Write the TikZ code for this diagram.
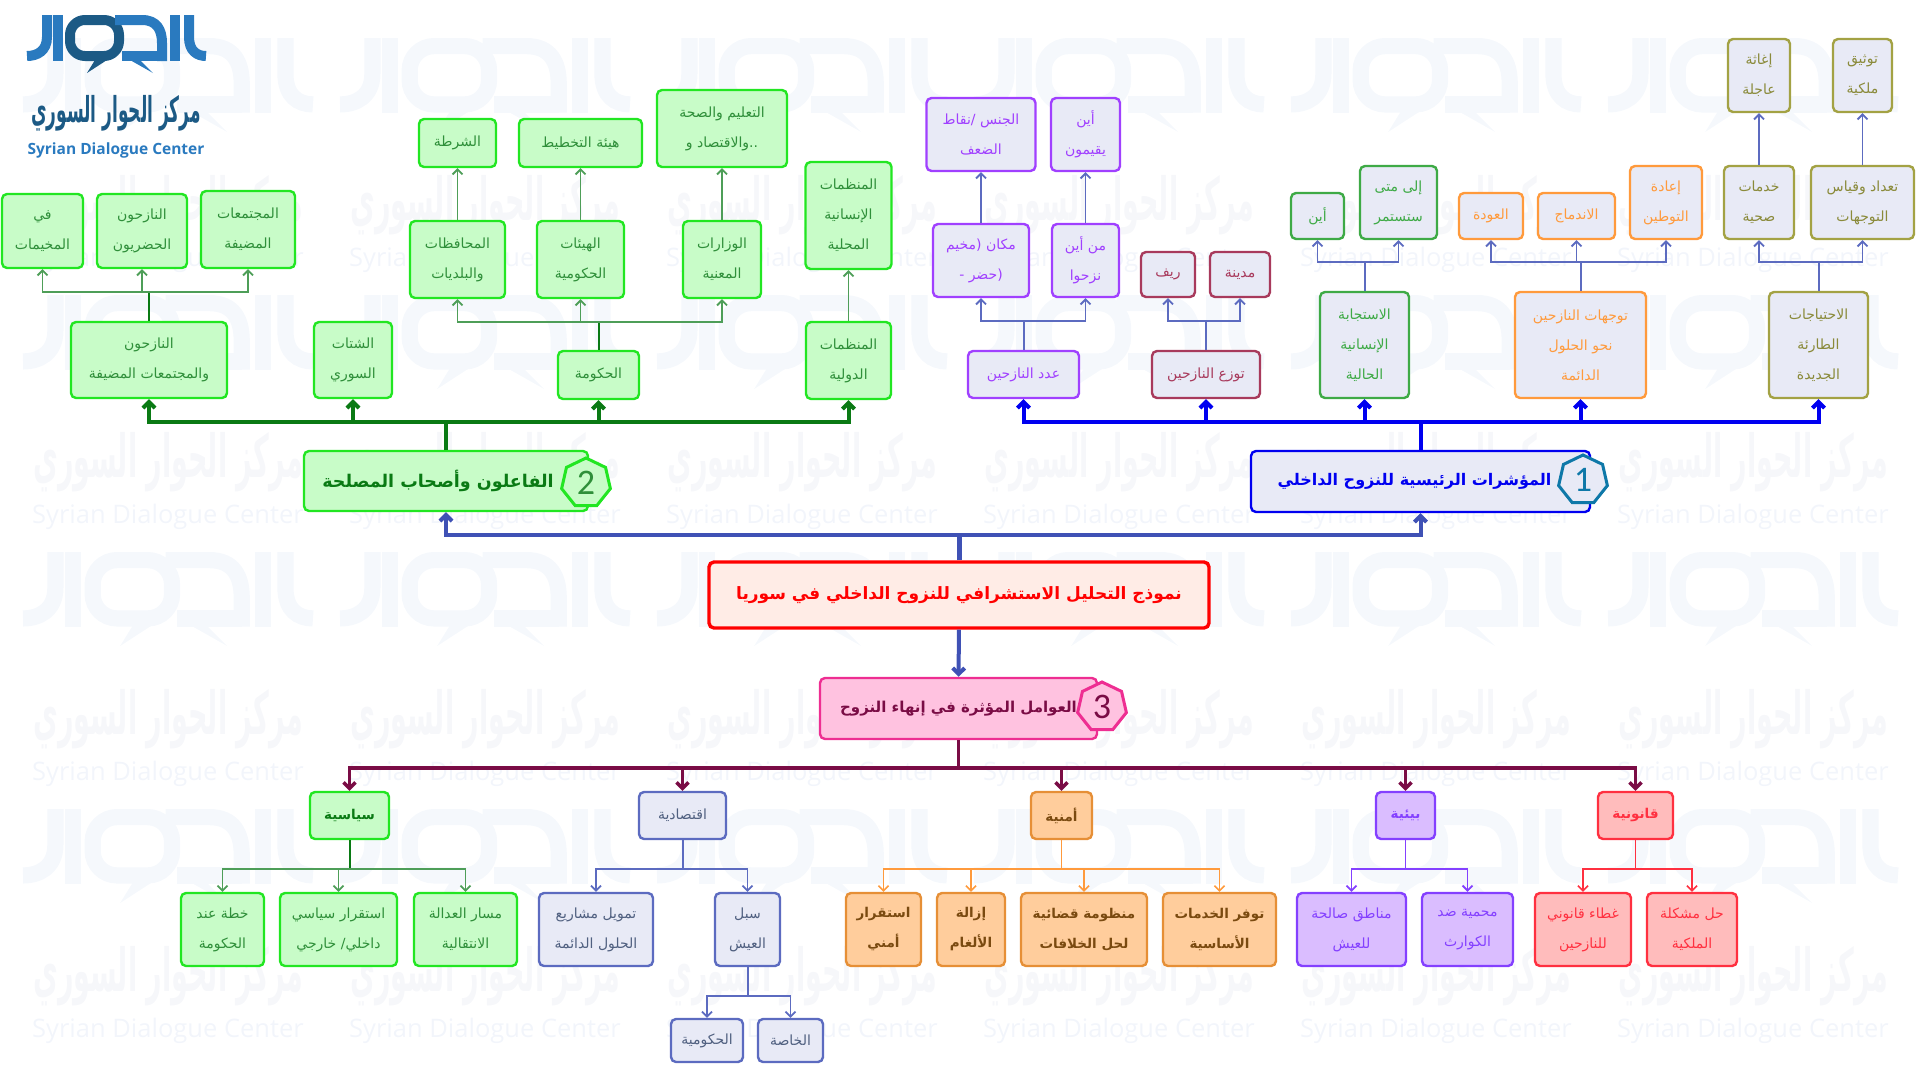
\documentclass[tikz,border=0pt]{standalone}
\usepackage{fontspec}
\usepackage{graphicx}
\usetikzlibrary{arrows.meta,shapes.geometric}
\TeXXeTstate=1
\newfontfamily\arabicfont[Script=Arabic]{DejaVu Sans}
\newfontfamily\latinfont{Open Sans}
\newfontfamily\digitfont{Carlito}
\newcommand{\ar}[1]{\beginR #1\endR}
\definecolor{gfill}{HTML}{C8FCC8}
\definecolor{gline}{HTML}{22E622}
\definecolor{gtext}{HTML}{2F8F3A}
\definecolor{gdark}{HTML}{0A7A14}
\definecolor{gstemc}{HTML}{4E9E58}
\definecolor{sfill}{HTML}{E8EAF6}
\definecolor{pline}{HTML}{A040FF}
\definecolor{mline}{HTML}{A83A5C}
\definecolor{fline}{HTML}{3EAA46}
\definecolor{oline}{HTML}{FF9A3C}
\definecolor{kline}{HTML}{A3A244}
\definecolor{bstem}{HTML}{5C6BC0}
\definecolor{mainblue}{HTML}{0000F0}
\definecolor{linkblue}{HTML}{3F51B5}
\definecolor{rootfill}{HTML}{FFECE6}
\definecolor{pinkfill}{HTML}{FFC2E0}
\definecolor{pinkline}{HTML}{EE2E92}
\definecolor{maroon}{HTML}{7A0C45}
\definecolor{teal}{HTML}{0E78A8}
\definecolor{ofill}{HTML}{FFCD9C}
\definecolor{odraw}{HTML}{E68F36}
\definecolor{otext}{HTML}{7A4A10}
\definecolor{vfill}{HTML}{DABDFF}
\definecolor{vline}{HTML}{8440FF}
\definecolor{rfill}{HTML}{FFBCBC}
\definecolor{rline}{HTML}{FF3040}
\definecolor{etext}{HTML}{506080}
\definecolor{wmark}{HTML}{F5F8FC}
\definecolor{wtext}{HTML}{F2F5FB}
\definecolor{wcall}{HTML}{F6F7FA}
\definecolor{logoblue}{HTML}{2A7ABF}
\definecolor{logodark}{HTML}{1C5A85}
\newcommand{\logomark}[5]{%
  \begin{scope}[shift={(#1,#2)},scale=#3,line width=#3*10pt]
    \draw[#4] (20,0) -- (20,22) .. controls (20,36) and (10,41) .. (0,41);
    \draw[#4] (31,0) -- (31,46);
    \draw[#5,rounded corners=#3*15pt] (92,5) -- (43,5) -- (43,41) -- (92,41) -- cycle;
    \fill[#5] (60,58) -- (68,45) -- (80,45) -- cycle;
    \draw[#4] (88,5) -- (115,5) .. controls (130,5) and (135,15) .. (135,28) -- (135,46);
    \draw[#4] (95,41) -- (135,41);
    \fill[#4] (126,58) -- (103,45) -- (113,45) -- cycle;
    \draw[#4] (148,0) -- (148,46);
    \draw[#4] (162,0) -- (162,22) .. controls (162,36) and (170,41) .. (179,41);
  \end{scope}}
\begin{document}
\begin{tikzpicture}[x=1pt,y=-1pt,
    tile/.style={draw, rounded corners=5pt, line width=2.4pt, inner sep=0pt, align=center, font=\arabicfont\fontsize{14}{30}\selectfont},
    sz/.style 2 args={minimum width=#1, minimum height=#2},
    greenbox/.style={tile, fill=gfill, draw=gline, text=gtext},
    purplebox/.style={tile, fill=sfill, draw=pline, text=pline},
    maroonbox/.style={tile, fill=sfill, draw=mline, text=mline},
    forestbox/.style={tile, fill=sfill, draw=fline, text=fline},
    orangebox/.style={tile, fill=sfill, draw=oline, text=oline},
    olivebox/.style={tile, fill=sfill, draw=kline, text=kline!85!black},
    slatebox/.style={tile, fill=sfill, draw=bstem, text=etext},
    amberbox/.style={tile, fill=ofill, draw=odraw, text=otext, boldtext},
    violetbox/.style={tile, fill=vfill, draw=vline, text=vline},
    redbox/.style={tile, fill=rfill, draw=rline, text=rline},
    boldtext/.style={font=\arabicfont\bfseries\fontsize{13.5}{30}\selectfont},
    badge/.style={draw, regular polygon, regular polygon sides=7, minimum size=50pt, inner sep=0pt, line width=3pt, font=\digitfont\fontsize{36}{36}\selectfont},
    headfont/.style={font=\arabicfont\bfseries\fontsize{#1}{20}\selectfont},
    gstem/.style={draw=gstemc, line width=1.8pt, -{Straight Barb[length=5pt,width=10pt]}},
    gtrunk/.style={draw=gdark, line width=2pt},
    bluestem/.style={draw=bstem, line width=1.8pt, -{Straight Barb[length=5pt,width=10pt]}},
    bluetrunk/.style={draw=bstem, line width=2pt},
    orangestem/.style={draw=oline, line width=1.6pt, -{Straight Barb[length=5pt,width=10pt]}},
    violetstem/.style={draw=vline, line width=1.8pt, -{Straight Barb[length=5pt,width=10pt]}},
    redstem/.style={draw=rline, line width=1.6pt, -{Straight Barb[length=5pt,width=10pt]}},
    bigstem/.style={line width=4pt, -{Straight Barb[length=6pt,width=12pt]}}]
  \useasboundingbox (0,0) rectangle (1920,1079);
  % watermark
  \begin{scope}
    \clip (0,0) rectangle (1920,1079);
    \foreach \col in {0,...,5} {
      \foreach \row in {0,...,3} {
        \logomark{23+317*\col}{38+257*\row}{1.62}{wmark}{wmark}
        \node[text=wcall, font=\arabicfont\bfseries\fontsize{27}{27}\selectfont] (call\col\row) at (168+317*\col,205+257*\row) {\scalebox{1}[2.2]{\ar{مركز الحوار السوري}}};
        \node[text=wtext, font=\latinfont\fontsize{25.5}{26}\selectfont] (wm\col\row) at (168+317*\col,260+257*\row) {Syrian Dialogue Center};
      }
    }
  \end{scope}
  % logo
  \logomark{27}{15}{1}{logoblue}{logodark}
  \node[text=logodark, font=\arabicfont\bfseries\fontsize{17}{17}\selectfont] (logoname) at (116,113) {\scalebox{1}[2.1]{\ar{مركز الحوار السوري}}};
  \node[text=logoblue, font=\latinfont\bfseries\fontsize{15.5}{16}\selectfont] (logotext) at (116,150) {Syrian Dialogue Center};

  % stakeholders
  \node[greenbox, sz={81}{74}] (camps) at (42.5,231) {\ar{في}\\\ar{المخيمات}};
  \node[greenbox, sz={90}{74}] (urban) at (142,231) {\ar{النازحون}\\\ar{الحضريون}};
  \node[greenbox, sz={94}{77}] (hostcom) at (248,229.5) {\ar{المجتمعات}\\\ar{المضيفة}};
  \node[greenbox, sz={156}{76}] (hosted) at (149,360) {\ar{النازحون}\\\ar{والمجتمعات المضيفة}};
  \node[greenbox, sz={78}{76}] (diaspora) at (353,360) {\ar{الشتات}\\\ar{السوري}};
  \node[greenbox, sz={77}{48}] (police) at (457.5,143) {\ar{الشرطة}};
  \node[greenbox, sz={123}{48}] (planning) at (580.5,143) {\ar{هيئة التخطيط}};
  \node[greenbox, sz={130}{77}] (education) at (722,128.5) {\ar{التعليم والصحة}\\\ar{..والاقتصاد و}};
  \node[greenbox, sz={95}{77}] (munic) at (457.5,259.5) {\ar{المحافظات}\\\ar{والبلديات}};
  \node[greenbox, sz={87}{77}] (bodies) at (580.5,259.5) {\ar{الهيئات}\\\ar{الحكومية}};
  \node[greenbox, sz={78}{77}] (ministries) at (722,259.5) {\ar{الوزارات}\\\ar{المعنية}};
  \node[greenbox, sz={81}{48}] (government) at (598.5,375) {\ar{الحكومة}};
  \node[greenbox, sz={85}{77}] (intl) at (848.5,360.5) {\ar{المنظمات}\\\ar{الدولية}};
  \node[greenbox, sz={86}{107}] (local) at (848.5,215.5) {\ar{المنظمات}\\\ar{الإنسانية}\\\ar{المحلية}};

  % indicators
  \node[purplebox, sz={109}{73}] (gender) at (981,134.5) {\ar{الجنس /نقاط}\\\ar{الضعف}};
  \node[purplebox, sz={69}{73}] (residence) at (1085.5,134.5) {\ar{أين}\\\ar{يقيمون}};
  \node[purplebox, sz={96}{73}] (place) at (981,260.5) {\ar{مكان (مخيم}\\\ar{(حضر -}};
  \node[purplebox, sz={67}{73}] (origin) at (1085.5,260.5) {\ar{من أين}\\\ar{نزحوا}};
  \node[purplebox, sz={111}{47}] (count) at (1023.5,374.5) {\ar{عدد النازحين}};
  \node[maroonbox, sz={54}{45}] (rural) at (1168,274.5) {\ar{ريف}};
  \node[maroonbox, sz={60}{45}] (city) at (1240,274.5) {\ar{مدينة}};
  \node[maroonbox, sz={108}{47}] (spread) at (1206,374.5) {\ar{توزع النازحين}};
  \node[forestbox, sz={53}{46}] (whereto) at (1317.5,216) {\ar{أين}};
  \node[forestbox, sz={77}{73}] (duration) at (1398.5,202.5) {\ar{إلى متى}\\\ar{ستستمر}};
  \node[forestbox, sz={89}{106}] (response) at (1364.5,345) {\ar{الاستجابة}\\\ar{الإنسانية}\\\ar{الحالية}};
  \node[orangebox, sz={64}{46}] (returning) at (1491,216) {\ar{العودة}};
  \node[orangebox, sz={77}{46}] (integration) at (1576.5,216) {\ar{الاندماج}};
  \node[orangebox, sz={72}{73}] (resettle) at (1666,202.5) {\ar{إعادة}\\\ar{التوطين}};
  \node[orangebox, sz={131}{106}] (paths) at (1580.5,345) {\ar{توجهات النازحين}\\\ar{نحو الحلول}\\\ar{الدائمة}};
  \node[olivebox, sz={70}{73}] (health) at (1759,202.5) {\ar{خدمات}\\\ar{صحية}};
  \node[olivebox, sz={103}{73}] (census) at (1862.5,202.5) {\ar{تعداد وقياس}\\\ar{التوجهات}};
  \node[olivebox, sz={62}{73}] (relief) at (1759,75.5) {\ar{إغاثة}\\\ar{عاجلة}};
  \node[olivebox, sz={59}{73}] (deeds) at (1862.5,75.5) {\ar{توثيق}\\\ar{ملكية}};
  \node[olivebox, sz={99}{106}] (needs) at (1818.5,345) {\ar{الاحتياجات}\\\ar{الطارئة}\\\ar{الجديدة}};

  % main boxes
  \node[tile, sz={339}{61}, fill=sfill, draw=mainblue, text=mainblue, headfont=16] (indicators) at (1420.5,481.5) {\hspace*{-6pt}\ar{المؤشرات الرئيسية للنزوح الداخلي}\hspace*{6pt}};
  \node[tile, sz={284}{60}, fill=gfill, draw=gline, text=gdark, headfont=17.5] (stake) at (446,481) {\hspace*{-8pt}\ar{الفاعلون وأصحاب المصلحة}\hspace*{8pt}};
  \node[tile, sz={500}{66}, fill=rootfill, draw=red, text=red, line width=3.4pt, headfont=17] (root) at (959,595) {\ar{نموذج التحليل الاستشرافي للنزوح الداخلي في سوريا}};
  \node[tile, sz={277}{61}, fill=pinkfill, draw=pinkline, text=maroon, headfont=15] (factors) at (958.5,708.5) {\ar{العوامل المؤثرة في إنهاء النزوح}};
  \node[badge, draw=teal, fill=sfill, text=teal] (one) at (1583,480) {1};
  \node[badge, draw=gline, fill=gfill, text=gtext] (two) at (586,483) {2};
  \node[badge, draw=pinkline, fill=pinkfill, text=maroon] (three) at (1102,707) {3};

  % factors
  \node[greenbox, sz={79}{47}, text=gdark, boldtext] (political) at (349.5,815.5) {\ar{سياسية}};
  \node[slatebox, sz={87}{47}] (economic) at (682.5,815.5) {\ar{اقتصادية}};
  \node[amberbox, sz={61}{47}] (security) at (1061.5,815.5) {\ar{أمنية}};
  \node[violetbox, sz={59}{47}, boldtext] (environ) at (1405.5,815.5) {\ar{بيئية}};
  \node[redbox, sz={75}{47}, boldtext] (legal) at (1635.5,815.5) {\ar{قانونية}};
  \node[greenbox, sz={83}{73}] (plan) at (222.5,929.5) {\ar{خطة عند}\\\ar{الحكومة}};
  \node[greenbox, sz={117}{73}] (stable) at (338.5,929.5) {\ar{استقرار سياسي}\\\ar{داخلي/ خارجي}};
  \node[greenbox, sz={103}{73}] (justice) at (465.5,929.5) {\ar{مسار العدالة}\\\ar{الانتقالية}};
  \node[slatebox, sz={114}{73}] (funding) at (596,929.5) {\ar{تمويل مشاريع}\\\ar{الحلول الدائمة}};
  \node[slatebox, sz={65}{73}] (living) at (747.5,929.5) {\ar{سبل}\\\ar{العيش}};
  \node[slatebox, sz={72}{43}] (public) at (707,1040.5) {\ar{الحكومية}};
  \node[slatebox, sz={65}{43}] (private) at (790.5,1040.5) {\ar{الخاصة}};
  \node[amberbox, sz={75}{73}] (safety) at (883.5,929.5) {\ar{استقرار}\\\ar{أمني}};
  \node[amberbox, sz={68}{73}] (mines) at (971,929.5) {\ar{إزالة}\\\ar{الألغام}};
  \node[amberbox, sz={126}{73}] (courts) at (1084,929.5) {\ar{منظومة قضائية}\\\ar{لحل الخلافات}};
  \node[amberbox, sz={113}{73}] (services) at (1219.5,929.5) {\ar{توفر الخدمات}\\\ar{الأساسية}};
  \node[violetbox, sz={109}{73}] (liveable) at (1351.5,929.5) {\ar{مناطق صالحة}\\\ar{للعيش}};
  \node[violetbox, sz={91}{73}] (shelter) at (1467.5,929.5) {\ar{محمية ضد}\\\ar{الكوارث}};
  \node[redbox, sz={96}{73}] (cover) at (1583,929.5) {\ar{غطاء قانوني}\\\ar{للنازحين}};
  \node[redbox, sz={90}{73}] (property) at (1692,929.5) {\ar{حل مشكلة}\\\ar{الملكية}};

  % bus points
  \coordinate (rootbus) at (959,535);
  \coordinate (stakebus) at (446,422);
  \coordinate (indbus) at (1420.5,422);
  \coordinate (factorbus) at (958.5,768);
  \coordinate (hostedbus) at (149,292);
  \coordinate (govbus) at (598.5,322);
  \coordinate (countbus) at (1023.5,321);
  \coordinate (spreadbus) at (1206,321);
  \coordinate (responsebus) at (1364.5,262);
  \coordinate (pathsbus) at (1580.5,262);
  \coordinate (needsbus) at (1818.5,262);
  \coordinate (polbus) at (349.5,869);
  \coordinate (ecobus) at (682.5,869);
  \coordinate (secbus) at (1061.5,869);
  \coordinate (envbus) at (1405.5,869);
  \coordinate (legbus) at (1635.5,869);
  \coordinate (livbus) at (747.5,996);

  % thick links
  \draw[draw=linkblue, line width=5pt] (root) -- (rootbus);
  \foreach \k in {stake,indicators} \draw[bigstem, draw=linkblue] (rootbus) -| (\k.south);
  \draw[bigstem, draw=linkblue] (root) -- (factors);
  \draw[draw=gdark, line width=4pt] (stake) -- (stakebus);
  \foreach \k in {hosted,diaspora,government,intl} \draw[bigstem, draw=gdark] (stakebus) -| (\k.south);
  \draw[draw=mainblue, line width=4pt] (indicators) -- (indbus);
  \foreach \k in {count,spread,response,paths,needs} \draw[bigstem, draw=mainblue] (indbus) -| (\k.south);
  \draw[draw=maroon, line width=3.5pt] (factors) -- (factorbus);
  \foreach \k in {political,economic,security,environ,legal} \draw[bigstem, draw=maroon, line width=3.5pt] (factorbus) -| (\k.north);

  % thin links
  \draw[gtrunk] (hosted) -- (hostedbus);
  \foreach \k in {camps,urban,hostcom} \draw[gstem] (hostedbus) -| (\k.south);
  \draw[gtrunk] (government) -- (govbus);
  \foreach \k in {munic,bodies,ministries} \draw[gstem] (govbus) -| (\k.south);
  \draw[gstem] (munic) -- (police);
  \draw[gstem] (bodies) -- (planning);
  \draw[gstem] (ministries) -- (education);
  \draw[gstem] (intl) -- (local);
  \draw[bluetrunk] (count) -- (countbus);
  \foreach \k in {place,origin} \draw[bluestem] (countbus) -| (\k.south);
  \draw[bluestem] (place) -- (gender);
  \draw[bluestem] (origin) -- (residence);
  \draw[bluetrunk] (spread) -- (spreadbus);
  \foreach \k in {rural,city} \draw[bluestem] (spreadbus) -| (\k.south);
  \draw[bluetrunk] (response) -- (responsebus);
  \foreach \k in {whereto,duration} \draw[bluestem] (responsebus) -| (\k.south);
  \draw[bluetrunk] (paths) -- (pathsbus);
  \foreach \k in {returning,integration,resettle} \draw[bluestem] (pathsbus) -| (\k.south);
  \draw[bluetrunk] (needs) -- (needsbus);
  \foreach \k in {health,census} \draw[bluestem] (needsbus) -| (\k.south);
  \draw[bluestem] (health) -- (relief);
  \draw[bluestem] (census) -- (deeds);
  \draw[gtrunk] (political) -- (polbus);
  \foreach \k in {plan,stable,justice} \draw[gstem] (polbus) -| (\k.north);
  \draw[bluetrunk] (economic) -- (ecobus);
  \foreach \k in {funding,living} \draw[bluestem] (ecobus) -| (\k.north);
  \draw[bluetrunk] (living) -- (livbus);
  \foreach \k in {public,private} \draw[bluestem] (livbus) -| (\k.north);
  \draw[draw=oline, line width=1.8pt] (security) -- (secbus);
  \foreach \k in {safety,mines,courts,services} \draw[orangestem] (secbus) -| (\k.north);
  \draw[draw=vline, line width=1.8pt] (environ) -- (envbus);
  \foreach \k in {liveable,shelter} \draw[violetstem] (envbus) -| (\k.north);
  \draw[draw=rline, line width=1.8pt] (legal) -- (legbus);
  \foreach \k in {cover,property} \draw[redstem] (legbus) -| (\k.north);
\end{tikzpicture}
\end{document}
